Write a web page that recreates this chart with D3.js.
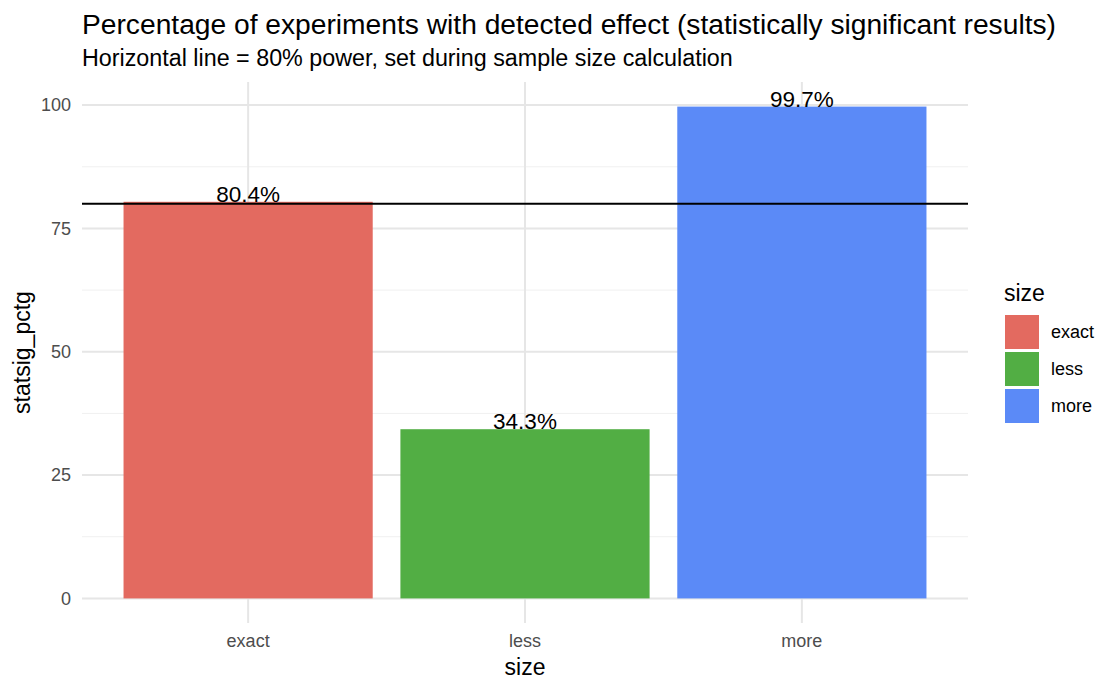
<!DOCTYPE html>
<html>
<head>
<meta charset="utf-8">
<script src="https://cdn.jsdelivr.net/npm/d3@7"></script>
<style>
  body { margin: 0; background: #fff; }
  text { font-family: "Liberation Sans", Arial, sans-serif; }
</style>
</head>
<body>
<svg id="chart" width="1120" height="692"></svg>
<script>
// data
const categories = ["exact", "less", "more"];
const statsigPctg = [80.4, 34.3, 99.7];
const barLabels = ["80.4%", "34.3%", "99.7%"];
const yTicks = [0, 25, 50, 75, 100];
const yMinorTicks = [12.5, 37.5, 62.5, 87.5];
const powerLine = 80;
const colors = ["#e36a60", "#52ae44", "#5b8af7"];

const svg = d3.select('#chart');
const panel = { left: 82, right: 968, top: 82, bottom: 623 };

// ggplot style expansion: 5% on continuous, 0.6 units on discrete
const ymax = d3.max(statsigPctg);
const y = d3.scaleLinear()
    .domain([-0.05 * ymax, ymax * 1.05])
    .range([panel.bottom, panel.top]);

const xc = d3.scaleLinear()
    .domain([0.4, categories.length + 0.6])
    .range([panel.left, panel.right]);
const barW = 0.9 * (xc(1) - xc(0));

const grid = svg.append('g');
grid.selectAll('.minor').data(yMinorTicks).enter().append('line')
    .attr('x1', panel.left).attr('x2', panel.right)
    .attr('y1', d => y(d)).attr('y2', d => y(d))
    .attr('stroke', '#f0f0f0').attr('stroke-width', 1);
grid.selectAll('.major').data(yTicks).enter().append('line')
    .attr('x1', panel.left).attr('x2', panel.right)
    .attr('y1', d => y(d)).attr('y2', d => y(d))
    .attr('stroke', '#e6e6e6').attr('stroke-width', 2);
grid.selectAll('.vmajor').data(categories).enter().append('line')
    .attr('x1', (d, i) => xc(i + 1)).attr('x2', (d, i) => xc(i + 1))
    .attr('y1', panel.top).attr('y2', panel.bottom)
    .attr('stroke', '#e6e6e6').attr('stroke-width', 2);

// bars
svg.append('g').selectAll('rect').data(statsigPctg).enter().append('rect')
    .attr('x', (d, i) => xc(i + 1) - barW / 2)
    .attr('width', barW)
    .attr('y', d => y(d))
    .attr('height', d => y(0) - y(d))
    .attr('fill', (d, i) => colors[i]);

// 80% power line
svg.append('line')
    .attr('x1', panel.left).attr('x2', panel.right)
    .attr('y1', y(powerLine)).attr('y2', y(powerLine))
    .attr('stroke', '#000').attr('stroke-width', 1.8);

// bar labels
svg.append('g').selectAll('text').data(statsigPctg).enter().append('text')
    .attr('x', (d, i) => xc(i + 1))
    .attr('y', d => y(d))
    .attr('text-anchor', 'middle')
    .attr('font-size', 22.5)
    .attr('fill', '#000')
    .text((d, i) => barLabels[i]);

// y tick labels
svg.append('g').selectAll('text').data(yTicks).enter().append('text')
    .attr('x', 71)
    .attr('y', d => y(d))
    .attr('dy', '0.35em')
    .attr('text-anchor', 'end')
    .attr('font-size', 18)
    .attr('fill', '#4d4d4d')
    .text(d => d);

// x tick labels
svg.append('g').selectAll('text').data(categories).enter().append('text')
    .attr('x', (d, i) => xc(i + 1))
    .attr('y', 647)
    .attr('text-anchor', 'middle')
    .attr('font-size', 18)
    .attr('fill', '#4d4d4d')
    .text(d => d);

// axis titles
svg.append('text')
    .attr('x', (panel.left + panel.right) / 2).attr('y', 675)
    .attr('text-anchor', 'middle').attr('font-size', 23)
    .text('size');
svg.append('text')
    .attr('transform', `translate(30,${(panel.top + panel.bottom) / 2}) rotate(-90)`)
    .attr('text-anchor', 'middle').attr('font-size', 23)
    .text('statsig_pctg');

// titles
svg.append('text').attr('x', 82).attr('y', 34)
    .attr('font-size', 28.2).text('Percentage of experiments with detected effect (statistically significant results)');
svg.append('text').attr('x', 82).attr('y', 66)
    .attr('font-size', 23.3).text('Horizontal line = 80% power, set during sample size calculation');

// legend
const legend = svg.append('g').attr('transform', 'translate(1005,0)');
legend.append('text').attr('x', -1).attr('y', 301).attr('font-size', 23).text('size');
const items = legend.selectAll('g').data(categories).enter().append('g')
    .attr('transform', (d, i) => `translate(0,${315 + i * 37})`);
items.append('rect').attr('width', 34).attr('height', 34)
    .attr('fill', (d, i) => colors[i]);
items.append('text').attr('x', 46).attr('y', 17).attr('dy', '0.35em')
    .attr('font-size', 18).text(d => d);
</script>
</body>
</html>
